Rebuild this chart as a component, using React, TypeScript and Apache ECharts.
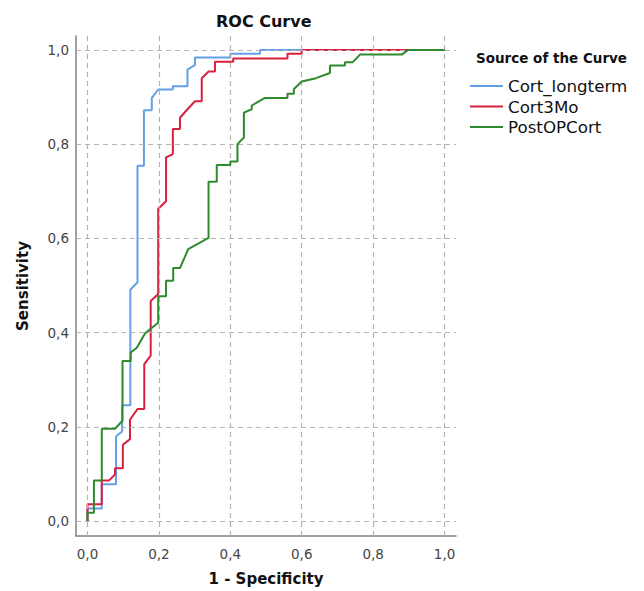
import React, { useEffect, useRef } from "react";
import * as echarts from "echarts";

const seriesNames = ["Cort_longterm", "Cort3Mo", "PostOPCort"];
const seriesColors = ["#63a0e9", "#d9203f", "#2d8a2d"];

const longtermFpr = [0, 0, 0.04, 0.04, 0.08, 0.08, 0.097, 0.097, 0.12, 0.12, 0.14, 0.14, 0.158, 0.158, 0.18, 0.18, 0.198, 0.239, 0.239, 0.28, 0.28, 0.301, 0.301, 0.4, 0.4, 0.483, 0.483, 1];
const longtermTpr = [0, 0.027, 0.027, 0.078, 0.078, 0.18, 0.19, 0.246, 0.246, 0.491, 0.507, 0.754, 0.754, 0.872, 0.872, 0.898, 0.916, 0.916, 0.923, 0.923, 0.958, 0.968, 0.984, 0.984, 0.992, 0.992, 1, 1];

const threeMoFpr = [0, 0, 0.04, 0.04, 0.06, 0.077, 0.077, 0.099, 0.099, 0.119, 0.119, 0.14, 0.159, 0.159, 0.177, 0.177, 0.198, 0.198, 0.22, 0.22, 0.239, 0.239, 0.259, 0.259, 0.28, 0.301, 0.32, 0.32, 0.339, 0.357, 0.357, 0.408, 0.408, 0.56, 0.56, 0.6, 0.6, 1];
const threeMoTpr = [0, 0.036, 0.036, 0.086, 0.086, 0.099, 0.112, 0.112, 0.162, 0.174, 0.215, 0.238, 0.238, 0.333, 0.351, 0.467, 0.482, 0.663, 0.679, 0.772, 0.779, 0.832, 0.832, 0.856, 0.874, 0.891, 0.891, 0.94, 0.954, 0.954, 0.975, 0.975, 0.982, 0.982, 0.992, 0.992, 1, 1];

const postOpFpr = [0, 0, 0.018, 0.018, 0.04, 0.04, 0.077, 0.098, 0.098, 0.121, 0.121, 0.138, 0.161, 0.175, 0.198, 0.198, 0.22, 0.22, 0.24, 0.24, 0.259, 0.282, 0.339, 0.339, 0.362, 0.362, 0.4, 0.4, 0.42, 0.42, 0.438, 0.438, 0.46, 0.46, 0.497, 0.56, 0.56, 0.578, 0.578, 0.6, 0.64, 0.679, 0.679, 0.721, 0.721, 0.743, 0.763, 0.88, 0.898, 1];
const postOpTpr = [0, 0.018, 0.018, 0.086, 0.086, 0.196, 0.196, 0.213, 0.34, 0.34, 0.358, 0.368, 0.398, 0.407, 0.421, 0.477, 0.477, 0.51, 0.51, 0.537, 0.537, 0.577, 0.601, 0.72, 0.72, 0.756, 0.756, 0.763, 0.763, 0.8, 0.814, 0.867, 0.874, 0.882, 0.898, 0.898, 0.907, 0.907, 0.917, 0.933, 0.94, 0.951, 0.967, 0.967, 0.974, 0.974, 0.99, 0.99, 1, 1];

const tickValues = [0, 0.2, 0.4, 0.6, 0.8, 1.0];

const FONT = "DejaVu Sans";

function pairs(xs: number[], ys: number[]) {
  return xs.map((x, i) => [x, ys[i]]);
}

export default function App() {
  const ref = useRef<HTMLDivElement>(null);

  useEffect(() => {
    document.body.style.margin = "0";
    const chart = echarts.init(ref.current!, null, { renderer: "svg" });
    const fmt = (v: number) => Number(v).toFixed(1).replace(".", ",");
    const curves = [
      pairs(longtermFpr, longtermTpr),
      pairs(threeMoFpr, threeMoTpr),
      pairs(postOpFpr, postOpTpr),
    ];
    const option: any = {
      animation: false,
      backgroundColor: "#ffffff",
      title: [
        {
          text: "ROC Curve",
          left: 216,
          top: 13,
          padding: 0,
          textStyle: { fontFamily: FONT, fontSize: 16, fontWeight: "bold", color: "#111" },
        },
        {
          text: "Source of the Curve",
          left: 476,
          top: 51,
          padding: 0,
          textStyle: { fontFamily: FONT, fontSize: 13.5, fontWeight: "bold", color: "#111" },
        },
      ],
      legend: {
        data: seriesNames,
        orient: "vertical",
        left: 470,
        top: 76,
        padding: 0,
        icon: "rect",
        itemWidth: 33,
        itemHeight: 2,
        itemGap: 0.5,
        textStyle: { fontFamily: FONT, fontSize: 16.7, color: "#111", lineHeight: 20 },
      },
      grid: { left: 76, right: 188, top: 36, bottom: 51, containLabel: false },
      xAxis: {
        type: "value",
        min: -0.0322,
        max: 1.032,
        name: "1 - Specificity",
        nameLocation: "middle",
        nameGap: 35,
        nameTextStyle: { fontFamily: FONT, fontSize: 15, fontWeight: "bold", color: "#111" },
        axisLine: { show: true, onZero: false, lineStyle: { color: "#808080", width: 1.5 } },
        axisTick: { show: false },
        splitLine: { show: false },
        axisLabel: {
          customValues: tickValues,
          formatter: fmt,
          margin: 11,
          fontFamily: FONT,
          fontSize: 13.5,
          color: "#444",
        },
      },
      yAxis: {
        type: "value",
        min: -0.0316,
        max: 1.0295,
        name: "Sensitivity",
        nameLocation: "middle",
        nameRotate: 90,
        nameGap: 46,
        nameTextStyle: { fontFamily: FONT, fontSize: 15, fontWeight: "bold", color: "#111" },
        axisLine: { show: true, onZero: false, lineStyle: { color: "#808080", width: 1.5 } },
        axisTick: { show: false },
        splitLine: { show: false },
        axisLabel: {
          customValues: tickValues,
          formatter: fmt,
          margin: 7,
          fontFamily: FONT,
          fontSize: 13.5,
          color: "#444",
        },
      },
      series: [
        {
          name: "__grid",
          type: "line",
          data: [],
          z: 1,
          silent: true,
          markLine: {
            silent: true,
            symbol: ["none", "none"],
            label: { show: false },
            emphasis: { disabled: true },
            lineStyle: { type: [5, 4], color: "#b4b4b4", width: 1.2 },
            data: [
              ...tickValues.map((v) => ({ xAxis: v })),
              ...tickValues.map((v) => ({ yAxis: v })),
            ],
          },
        },
        ...seriesNames.map((name, i) => ({
          name,
          type: "line",
          data: curves[i],
          showSymbol: false,
          symbol: "none",
          z: 3 + i,
          color: seriesColors[i],
          lineStyle: { color: seriesColors[i], width: 2 },
          emphasis: { disabled: true },
        })),
      ],
    };
    chart.setOption(option);
    return () => chart.dispose();
  }, []);

  return <div ref={ref} style={{ width: 644, height: 591 }} />;
}
